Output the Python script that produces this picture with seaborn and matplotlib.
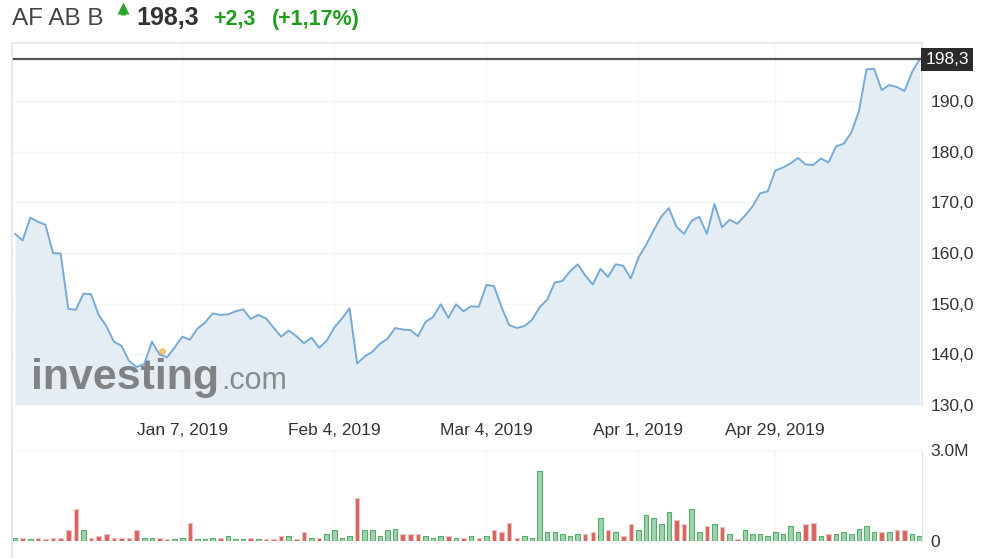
import numpy as np
import pandas as pd
import seaborn as sns
import matplotlib.pyplot as plt
from matplotlib.ticker import FuncFormatter
import matplotlib.transforms as mtransforms

# trading days shown (Stockholm calendar)
start_date = "2018-11-29"
end_date = "2019-05-27"
holidays = ["2018-12-24", "2018-12-25", "2018-12-26", "2018-12-31", "2019-01-01",
            "2019-04-19", "2019-04-22", "2019-05-01"]

# closing price (SEK)
close = [163.8, 162.5, 167.0, 166.2, 165.6, 160.0, 159.9, 149.0, 148.8, 152.0,
         151.9, 147.8, 145.6, 142.5, 141.7, 138.7, 137.5, 138.1, 142.5, 140.0,
         139.4, 141.4, 143.5, 142.9, 145.1, 146.3, 148.1, 147.8, 147.9, 148.5,
         148.9, 147.0, 147.8, 147.1, 145.3, 143.5, 144.7, 143.6, 142.2, 143.3,
         141.3, 142.7, 145.3, 147.1, 149.1, 138.2, 139.6, 140.5, 142.1, 143.1,
         145.2, 144.9, 144.8, 143.6, 146.4, 147.4, 149.9, 147.2, 149.9, 148.5,
         149.5, 149.4, 153.7, 153.5, 149.3, 145.8, 145.2, 145.6, 146.8, 149.3,
         150.8, 154.2, 154.5, 156.4, 157.8, 155.6, 153.8, 156.9, 155.3, 157.8,
         157.5, 155.0, 159.1, 161.6, 164.5, 167.2, 168.9, 165.2, 163.8, 166.4,
         167.2, 163.8, 169.7, 165.1, 166.6, 165.8, 167.4, 169.2, 171.8, 172.2,
         176.3, 176.9, 177.7, 178.8, 177.5, 177.4, 178.7, 177.9, 181.1, 181.6,
         183.8, 188.0, 196.3, 196.4, 192.2, 193.2, 192.8, 192.0, 195.8, 198.3]

# volume (millions of shares)
volume = [0.11, 0.11, 0.08, 0.11, 0.07, 0.11, 0.11, 0.35, 1.07, 0.35,
          0.11, 0.18, 0.22, 0.11, 0.11, 0.11, 0.35, 0.11, 0.11, 0.11,
          0.07, 0.07, 0.11, 0.59, 0.07, 0.07, 0.11, 0.11, 0.18, 0.07,
          0.07, 0.11, 0.07, 0.07, 0.07, 0.18, 0.18, 0.07, 0.29, 0.11,
          0.11, 0.22, 0.35, 0.11, 0.18, 1.42, 0.35, 0.35, 0.18, 0.35,
          0.38, 0.22, 0.22, 0.22, 0.18, 0.11, 0.18, 0.18, 0.11, 0.11,
          0.18, 0.11, 0.18, 0.35, 0.29, 0.60, 0.11, 0.18, 0.11, 2.32,
          0.29, 0.29, 0.22, 0.18, 0.22, 0.22, 0.29, 0.76, 0.35, 0.29,
          0.18, 0.55, 0.35, 0.85, 0.76, 0.55, 0.96, 0.70, 0.55, 1.07,
          0.29, 0.49, 0.55, 0.45, 0.22, 0.08, 0.35, 0.22, 0.22, 0.18,
          0.29, 0.22, 0.49, 0.29, 0.55, 0.59, 0.18, 0.22, 0.22, 0.29,
          0.22, 0.38, 0.49, 0.29, 0.29, 0.29, 0.35, 0.35, 0.22, 0.18]

tick_dates = ["2019-01-07", "2019-02-04", "2019-03-04", "2019-04-01", "2019-04-29"]
event_date = "2019-01-02"

change = 2.3
change_pct = 1.17

dates = pd.bdate_range(start_date, end_date, freq="C", holidays=holidays)
df = pd.DataFrame({"date": dates, "close": close, "volume": volume})
df["pos"] = np.arange(len(df))
df["up"] = df["close"].diff().fillna(1) > 0

tick_pos = [dates.get_loc(pd.Timestamp(d)) for d in tick_dates]
tick_labels = [pd.Timestamp(d).strftime("%b %-d, %Y") for d in tick_dates]

sns.set_style("white")
plt.rcParams["font.family"] = ["Liberation Sans", "DejaVu Sans"]

W, H = 985, 558
fig = plt.figure(figsize=(W / 100, H / 100), dpi=100)

def box(x0, y0, x1, y1):
    return [x0 / W, 1 - y1 / H, (x1 - x0) / W, (y1 - y0) / H]

line_col = "#78aad9"
fill_col = "#e4edf4"
grid_col = "#f4f5f7"
border_col = "#e3e6ea"
label_col = "#333333"
fs = 12.5

# ===== price panel =====
ax = fig.add_axes(box(12, 43, 922, 405))
ax.fill_between(df["pos"], df["close"], 130, color=fill_col, lw=0)
sns.lineplot(data=df, x="pos", y="close", color=line_col, lw=1.4, ax=ax)
ax.set_xlim(-0.4, len(df) - 0.7)
ax.set_ylim(130, 201.5)
ax.set_yticks(np.arange(130, 191, 10))
ax.yaxis.set_major_formatter(FuncFormatter(lambda v, p: f"{v:.1f}".replace(".", ",")))
ax.yaxis.tick_right()
ax.set_xticks(tick_pos)
ax.set_xticklabels(tick_labels)
ax.tick_params(axis="y", length=0, pad=6, labelsize=fs, labelcolor=label_col)
ax.tick_params(axis="x", length=0, pad=13, labelsize=fs, labelcolor=label_col)
for lab in ax.get_yticklabels():
    lab.set_horizontalalignment("left")
ax.grid(True, color=grid_col, lw=1)
ax.set_axisbelow(True)
ax.set_xlabel("")
ax.set_ylabel("")
for side in ["left", "top", "right"]:
    ax.spines[side].set_color(border_col)
    ax.spines[side].set_linewidth(1.2)
ax.spines["bottom"].set_visible(False)

# event marker
ev = dates.get_loc(pd.Timestamp(event_date))
ax.plot(df["pos"][ev] + 0.3, df["close"][ev] + 0.6, marker="o", ms=5,
        color="#f7c66f", mec="none", zorder=1)

# last price line and tag
last = df["close"].iloc[-1]
ax.axhline(last, color="#555555", lw=1.6)
trans = mtransforms.blended_transform_factory(ax.transAxes, ax.transData)
ax.text(1.004, last, f"{last:.1f}".replace(".", ","), transform=trans, va="center",
        ha="left", color="white", fontsize=fs,
        bbox=dict(facecolor="#2b2b2b", edgecolor="none", pad=3))

# watermark
fig.text(31 / W, 1 - 389 / H, "investing", fontsize=31, fontweight="bold",
         color="#6f6f6f", alpha=0.85)
fig.text(221 / W, 1 - 389 / H, ".com", fontsize=22, color="#7a7a7a", alpha=0.85)

# ===== volume panel =====
vax = fig.add_axes(box(12, 450, 922, 541))
colors = np.where(df["up"], "#9ed3ac", "#d9635f")
edges = np.where(df["up"], "#58ad6d", "#ecc0be")
vax.bar(df["pos"], df["volume"], width=0.6, color=colors, edgecolor=edges, lw=0.8)
vax.set_xlim(ax.get_xlim())
vax.set_ylim(0, 3.0)
vax.set_yticks([0, 3.0])
vax.set_yticklabels(["0", "3.0M"])
vax.yaxis.tick_right()
vax.set_xticks(tick_pos)
vax.set_xticklabels([])
vax.tick_params(axis="y", length=0, pad=6, labelsize=fs, labelcolor=label_col)
vax.tick_params(axis="x", length=0)
for lab in vax.get_yticklabels():
    lab.set_horizontalalignment("left")
vax.grid(True, color=grid_col, lw=1)
vax.set_axisbelow(True)
for side in ["top", "bottom"]:
    vax.spines[side].set_visible(False)
vax.spines["left"].set_color(border_col)
vax.spines["right"].set_color("#dde4ec")
vax.spines["left"].set_linewidth(1.2)

# left frame line continuing between panels
fig.add_artist(plt.Line2D([12 / W, 12 / W], [1 - 405 / H, 0], color=border_col, lw=1.2))

# ===== header =====
base = 1 - 25 / H
fig.text(12 / W, base, "AF AB B", fontsize=17.5, color="#444444", va="baseline")
# small up-arrow icon
fig.add_artist(plt.Line2D([123 / W], [1 - 8 / H], marker="^", ms=8, color="#2aa52a",
                          mec="none"))
fig.add_artist(plt.Line2D([123 / W, 123 / W], [1 - 10 / H, 1 - 15 / H], lw=3.5,
                          color="#2aa52a", solid_capstyle="butt"))
fig.text(136 / W, base, f"{last:.1f}".replace(".", ","), fontsize=18,
         fontweight="bold", color="#333333", va="baseline")
fig.text(213 / W, base, f"+{change:.1f}".replace(".", ","), fontsize=15.5,
         fontweight="bold", color="#1e9e1e", va="baseline")
fig.text(272 / W, base, f"(+{change_pct:.2f}%)".replace(".", ","), fontsize=15.5,
         fontweight="bold", color="#1e9e1e", va="baseline")

fig.savefig("out.png", dpi=100)
